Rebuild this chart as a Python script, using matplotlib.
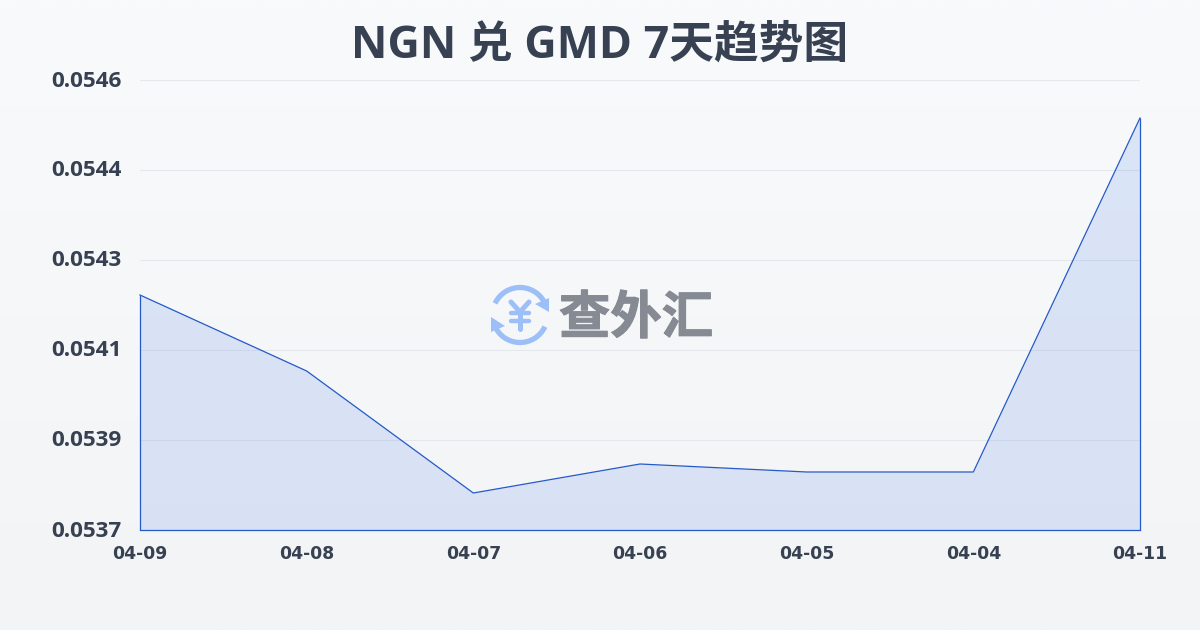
import numpy as np
import matplotlib
matplotlib.use('Agg')
import matplotlib.pyplot as plt
import matplotlib.patheffects as pe
from matplotlib.patches import Arc, Polygon
from matplotlib.transforms import ScaledTranslation

dates = ['04-09', '04-08', '04-07', '04-06', '04-05', '04-04', '04-11']
rates = [0.05419, 0.054038, 0.053794, 0.053852, 0.053836, 0.053836, 0.054544]
yticks = [0.05372, 0.0539, 0.05408, 0.05426, 0.05444, 0.05462]
ylabels = ['0.0537', '0.0539', '0.0541', '0.0543', '0.0544', '0.0546']

dark = '#374151'
blue = '#2459c8'
cjk = ['Open Sans', 'Noto Sans CJK SC', 'DejaVu Sans']

fig = plt.figure(figsize=(12, 6.3), dpi=100)

# page background, light vertical gradient
bg = fig.add_axes([0, 0, 1, 1], zorder=0)
bg.imshow(np.linspace(0, 1, 256).reshape(-1, 1), aspect='auto',
          cmap=matplotlib.colors.LinearSegmentedColormap.from_list('bg', ['#f8fafc', '#f3f4f6']))
bg.axis('off')

ax = fig.add_axes([140/1200, 1 - 530/630, 1000/1200, 450/630], zorder=1)
ax.patch.set_alpha(0)
x = np.arange(len(dates))
ax.fill_between(x, rates, yticks[0], color='#3f74e6', alpha=0.15, lw=0, zorder=2)
ax.plot(x, rates, color=blue, lw=0.9, zorder=3, clip_on=False)
ax.vlines([x[0], x[-1]], yticks[0], [rates[0], rates[-1]], color=blue, lw=0.9, zorder=3, clip_on=False)
ax.set_xlim(x[0], x[-1])
ax.set_ylim(yticks[0], yticks[-1])
ax.set_xticks(x, dates)
ax.set_yticks(yticks, ylabels)
ax.grid(axis='y', color='#e4e7ec', lw=0.8, zorder=1)
ax.set_axisbelow(True)
for name, s in ax.spines.items():
    s.set_visible(False)
ax.spines['bottom'].set_visible(True)
ax.spines['bottom'].set_color(blue)
ax.spines['bottom'].set_linewidth(0.9)
ax.tick_params(axis='both', length=0)
ax.tick_params(axis='x', pad=10.7, labelcolor=dark, labelsize=12.4)
ax.tick_params(axis='y', pad=13, labelcolor=dark)
for t in ax.get_xticklabels():
    t.set_fontweight('bold')
for t in ax.get_yticklabels():
    t.set_fontweight('bold')
    t.set_fontfamily('Open Sans')
    t.set_fontsize(16.2)
    t.set_transform(t.get_transform() + ScaledTranslation(0, 1.5/100, fig.dpi_scale_trans))

fig.text(0.5, 1 - 46/630, 'NGN 兑 GMD 7天趋势图', ha='center', va='center',
         fontsize=32.2, fontweight='bold', color=dark, family=cjk)

# watermark logo, drawn in pixel coordinates
wm = fig.add_axes([0, 0, 1, 1], zorder=5)
wm.set_xlim(0, 1200)
wm.set_ylim(630, 0)
wm.axis('off')
logo = '#9dbff8'
wm.add_patch(Arc((520, 315), 55, 55, theta1=25, theta2=160, color=logo, lw=3.8))
wm.add_patch(Arc((520, 315), 55, 55, theta1=205, theta2=340, color=logo, lw=3.8))
wm.add_patch(Polygon([[549, 298], [549, 312], [535, 304]], color=logo, lw=0))
wm.add_patch(Polygon([[491, 317], [491, 332], [505, 326]], color=logo, lw=0))
wm.plot([511, 520, 529], [302, 312, 302], color=logo, lw=3.6, solid_capstyle='round')
wm.plot([520, 520], [312, 329], color=logo, lw=3.6, solid_capstyle='round')
wm.plot([511, 529], [313, 313], color=logo, lw=3.2, solid_capstyle='round')
wm.plot([511, 529], [321, 321], color=logo, lw=3.2, solid_capstyle='round')
wm.text(636, 320, '查外汇', ha='center', va='center', fontsize=37, fontweight='black',
        color='#858a93', family=cjk,
        path_effects=[pe.withStroke(linewidth=0.8, foreground='#858a93')])

fig.savefig('out.png', dpi=100)
